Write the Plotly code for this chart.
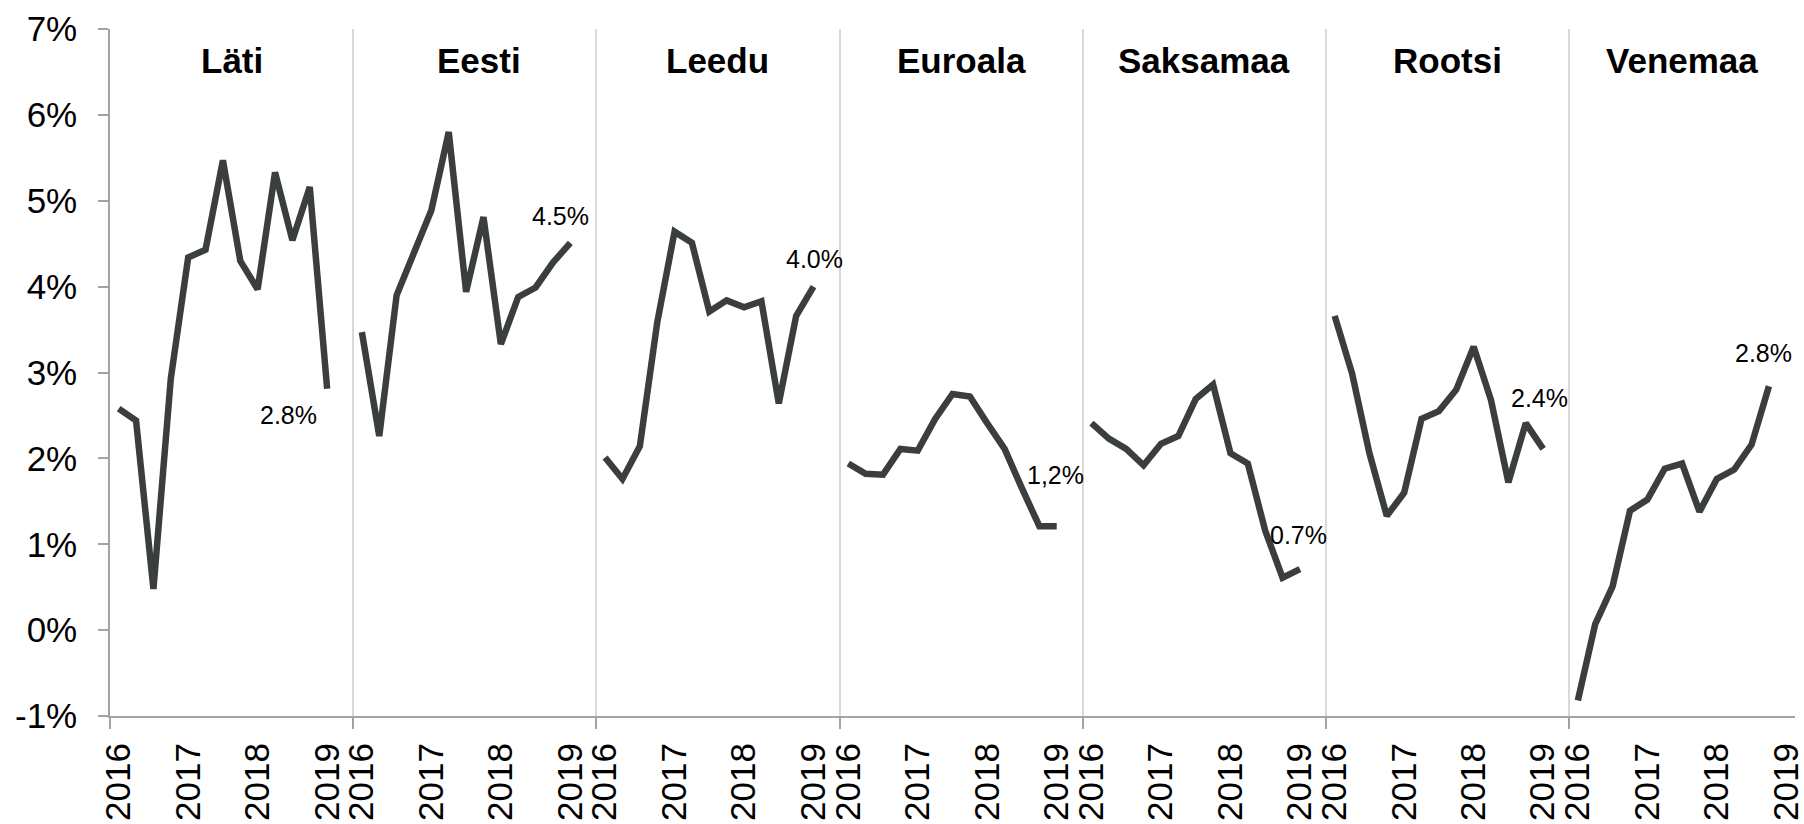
import plotly.graph_objects as go

# ---- data (annual growth, %) ----
titles = ["Läti", "Eesti", "Leedu", "Euroala", "Saksamaa", "Rootsi", "Venemaa"]
laeti = [2.58, 2.44, 0.48, 2.93, 4.34, 4.43, 5.47, 4.30, 3.97, 5.33, 4.54, 5.16, 2.81]
eesti = [3.47, 2.26, 3.90, 4.39, 4.89, 5.80, 3.94, 4.81, 3.33, 3.88, 3.99, 4.28, 4.51]
leedu = [2.01, 1.76, 2.14, 3.58, 4.64, 4.51, 3.71, 3.84, 3.76, 3.83, 2.64, 3.66, 4.00]
euroala = [1.94, 1.82, 1.81, 2.11, 2.09, 2.46, 2.75, 2.72, 2.41, 2.11, 1.65, 1.21, 1.21]
saksamaa = [2.41, 2.23, 2.11, 1.92, 2.17, 2.26, 2.69, 2.86, 2.06, 1.94, 1.16, 0.61, 0.71]
rootsi = [3.66, 2.99, 2.06, 1.33, 1.60, 2.46, 2.55, 2.80, 3.30, 2.68, 1.72, 2.41, 2.11]
venemaa = [-0.82, 0.07, 0.51, 1.39, 1.52, 1.88, 1.94, 1.38, 1.76, 1.87, 2.16, 2.84]
series = [laeti, eesti, leedu, euroala, saksamaa, rootsi, venemaa]
end_labels = ["2.8%", "4.5%", "4.0%", "1,2%", "0.7%", "2.4%", "2.8%"]
year_labels = ["2016", "2017", "2018", "2019"]
y_ticks = [-1, 0, 1, 2, 3, 4, 5, 6, 7]

# ---- layout constants ----
SLOTS = 14            # category slots per panel (quarters + gap)
LINE_COLOR = "#3b3e3f"
AXIS_COLOR = "#a3a3a3"
GRID_COLOR = "#d9d9d9"
FONT = "Liberation Sans, Arial, sans-serif"

# label offsets relative to panel start (slot units) and y-values for placement
label_dx = [9.76, 11.45, 12.05, 11.94, 11.9, 11.79, 10.71]
label_y = [2.51, 4.82, 4.32, 1.81, 1.11, 2.70, 3.23]

fig = go.Figure()

for p, vals in enumerate(series):
    xs = [p * SLOTS + i for i in range(len(vals))]
    fig.add_trace(go.Scatter(
        x=xs, y=vals, mode="lines",
        line=dict(color=LINE_COLOR, width=6.5),
        showlegend=False, hoverinfo="skip",
    ))

# invisible trace to host the year-label axis
fig.add_trace(go.Scatter(x=[0], y=[None], xaxis="x2", yaxis="y",
                         mode="lines", showlegend=False, hoverinfo="skip"))

n_total = SLOTS * (len(series) - 1) + 13
xrange_ = [-0.5, n_total - 0.5]

annotations = []
for p, t in enumerate(titles):
    cx = p * SLOTS + (6.5 if p < len(series) - 1 else 6.0)
    if p == 1:
        cx += 0.25
    annotations.append(dict(
        x=cx, y=6.63, xref="x", yref="y", text=t, showarrow=False,
        font=dict(family=FONT, size=35, color="black", weight="bold"),
        xanchor="center", yanchor="middle",
    ))
for p, lab in enumerate(end_labels):
    annotations.append(dict(
        x=p * SLOTS + label_dx[p], y=label_y[p], xref="x", yref="y",
        text=lab, showarrow=False,
        font=dict(family=FONT, size=25, color="black"),
        xanchor="center", yanchor="middle",
    ))

label_pos = []
label_txt = []
for p in range(len(series)):
    for k, yl in enumerate(year_labels):
        label_pos.append(p * SLOTS + 4 * k)
        label_txt.append(yl)

fig.update_layout(
    width=1804, height=824,
    margin=dict(l=110, r=9, t=29, b=108, autoexpand=False),
    paper_bgcolor="white", plot_bgcolor="white",
    font=dict(family=FONT, color="black"),
    xaxis=dict(
        range=xrange_, automargin=False,
        tickvals=[p * SLOTS - 0.5 for p in range(len(series))],
        showticklabels=False,
        ticks="outside", ticklen=11, tickwidth=1.5, tickcolor=AXIS_COLOR,
        showgrid=True, gridcolor=GRID_COLOR, gridwidth=1.5,
        showline=True, linecolor=AXIS_COLOR, linewidth=1.5,
        zeroline=False,
    ),
    xaxis2=dict(
        range=xrange_, overlaying="x", anchor="y", side="bottom",
        automargin=False,
        tickvals=label_pos, ticktext=label_txt, tickangle=-90,
        ticks="", showgrid=False, showline=False, zeroline=False,
        tickfont=dict(family=FONT, size=35, color="black"),
        ticklabelstandoff=19, ticklabeloverflow="allow",
    ),
    yaxis=dict(
        range=[-1, 7], automargin=False,
        tickvals=y_ticks, ticktext=[f"{v}%" for v in y_ticks],
        ticks="outside", ticklen=10, tickwidth=1.5, tickcolor=AXIS_COLOR,
        showline=True, linecolor=AXIS_COLOR, linewidth=1.5,
        showgrid=False, zeroline=False,
        tickfont=dict(family=FONT, size=35, color="black"),
        ticklabelstandoff=14,
    ),
    annotations=annotations,
)

fig.write_html(
    "out.html",
    config={"displayModeBar": False},
    post_script="document.body.style.margin='0';document.body.style.overflow='hidden';",
)
